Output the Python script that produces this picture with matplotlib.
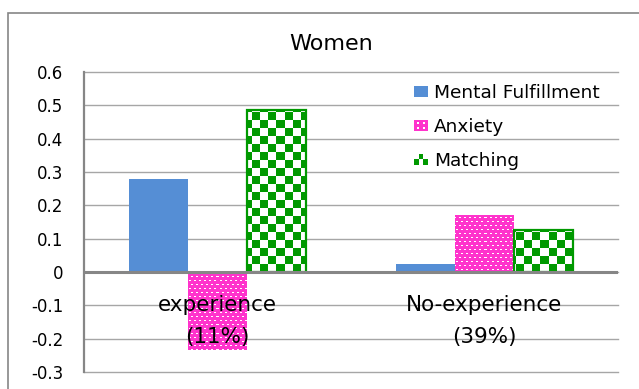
import numpy as np
import matplotlib
matplotlib.use("Agg")
import matplotlib.pyplot as plt
from matplotlib.patches import Rectangle
from matplotlib.image import AxesImage
from matplotlib.legend_handler import HandlerBase

# ---- data -------------------------------------------------------------
categories = ["experience\n(11%)", "No-experience\n(39%)"]
series_names = ["Mental Fulfillment", "Anxiety", "Matching"]
mental_fulfillment = [0.28, 0.025]
anxiety = [-0.235, 0.17]
matching = [0.485, 0.125]
yticks = [-0.3, -0.2, -0.1, 0.0, 0.1, 0.2, 0.3, 0.4, 0.5, 0.6]
ytick_labels = ["-0.3", "-0.2", "-0.1", "0", "0.1", "0.2", "0.3", "0.4", "0.5", "0.6"]
title = "Women"

# ---- styling ----------------------------------------------------------
BLUE = "#558ED5"
PINK = "#FF33CC"
GREEN = "#009900"
GRID = "#A6A6A6"
AXIS = "#868686"

plt.rcParams["font.family"] = ["DejaVu Sans"]

W, H = 639, 389
fig = plt.figure(figsize=(W / 100, H / 100), dpi=100)
fig.patch.set_facecolor("white")

# chart-area border
fig.add_artist(Rectangle((8.0 / W, -0.2), 1.5, 1.2 - 13.0 / H, transform=fig.transFigure,
                         facecolor="none", edgecolor=AXIS, lw=1.2))

ax_l, ax_r, ax_b, ax_t = 84, 618, 372, 72
ax = fig.add_axes([ax_l / W, 1 - ax_b / H, (ax_r - ax_l) / W, (ax_b - ax_t) / H])
ax_w_px, ax_h_px = ax_r - ax_l, ax_b - ax_t

x = np.arange(len(categories))
bw = 0.221

# solid blue bars
ax.bar(x - bw, mental_fulfillment, bw, color=BLUE, zorder=2, linewidth=0)
# pink bars (base fill, dots added below)
pink_bars = ax.bar(x, anxiety, bw, color=PINK, zorder=2, linewidth=0)
# green bars (outline only, checker fill added below)
green_bars = ax.bar(x + bw, matching, bw, facecolor="none", edgecolor=GREEN,
                    linewidth=1.6, zorder=3)

# fill textures sized to the axes in pixels
rr, cc = np.indices((ax_h_px, ax_w_px))
dots = np.zeros((ax_h_px, ax_w_px, 4))
dot_mask = (((rr % 8) == 1) & ((cc % 5) < 2)) | (((rr % 8) == 5) & (((cc + 3) % 5) < 2))
dots[dot_mask] = [1, 1, 1, 1]
checker = np.ones((ax_h_px, ax_w_px, 4))
check_mask = ((rr // 8 + cc // 8) % 2) == 0
checker[check_mask] = [0, 0x99 / 255, 0, 1]


def textured(arr, patch, z):
    im = AxesImage(ax, interpolation="nearest", origin="upper",
                   extent=(0, 1, 0, 1), transform=ax.transAxes, zorder=z)
    im.set_data(arr)
    ax.add_image(im)
    im.set_clip_path(patch)


for p in pink_bars:
    textured(dots, p, 2.2)
for p in green_bars:
    textured(checker, p, 2.8)

ax.set_xlim(-0.5, len(categories) - 0.5)
ax.set_ylim(yticks[0], yticks[-1])
ax.set_yticks(yticks)
ax.set_yticklabels(ytick_labels)
ax.set_xticks([])
ax.yaxis.grid(True, color=GRID, lw=1.0)
ax.set_axisbelow(True)
for gl in ax.yaxis.get_gridlines():
    gl.set_clip_on(False)
ax.tick_params(axis="y", length=0, pad=15, labelsize=12, colors="black")
for side in ("top", "right", "bottom"):
    ax.spines[side].set_visible(False)
ax.spines["left"].set_color(AXIS)
ax.spines["left"].set_linewidth(1.6)
ax.axhline(0, color=AXIS, lw=2.2, zorder=4)

# category labels sit just under the zero line
for xi, cat in zip(x, categories):
    ax.annotate(cat, xy=(xi, 0), xytext=(0, -16.5), textcoords="offset points",
                ha="center", va="top", fontsize=15.5, linespacing=1.75,
                annotation_clip=False, zorder=5)

fig.text(331 / W, 1 - 44 / H, title, ha="center", va="center", fontsize=16)


# ---- legend -----------------------------------------------------------
class SwatchHandler(HandlerBase):
    def __init__(self, kind):
        super().__init__()
        self.kind = kind

    def create_artists(self, legend, orig_handle, xdescent, ydescent,
                       width, height, fontsize, trans):
        x0, y0 = -xdescent, -ydescent
        arts = []
        if self.kind == "solid":
            arts.append(Rectangle((x0, y0), width, height, facecolor=BLUE, lw=0, transform=trans))
        elif self.kind == "dots":
            arts.append(Rectangle((x0, y0), width, height, facecolor=PINK, lw=0, transform=trans))
            for fx in (0.2, 0.65):
                for fy in (0.2, 0.65):
                    arts.append(Rectangle((x0 + fx * width, y0 + fy * height), 0.15 * width,
                                          0.15 * height, facecolor="white", lw=0, transform=trans))
        else:
            cw, ch = width / 3, height / 2
            for i in range(3):
                for j in range(2):
                    col = GREEN if (i + j) % 2 == 0 else "white"
                    arts.append(Rectangle((x0 + i * cw, y0 + j * ch), cw, ch,
                                          facecolor=col, lw=0, transform=trans))
        return arts


handles = [Rectangle((0, 0), 1, 1) for _ in series_names]
kinds = ["solid", "dots", "checker"]
leg = ax.legend(handles, series_names, loc="upper left",
                bbox_to_anchor=(414 / W, 1 - 84 / H), bbox_transform=fig.transFigure,
                frameon=False, fontsize=13.3, handlelength=0.75, handleheight=0.55,
                handletextpad=0.35, labelspacing=0.86, borderpad=0, borderaxespad=0,
                handler_map={h: SwatchHandler(k) for h, k in zip(handles, kinds)})

fig.savefig("out.png", dpi=100)
